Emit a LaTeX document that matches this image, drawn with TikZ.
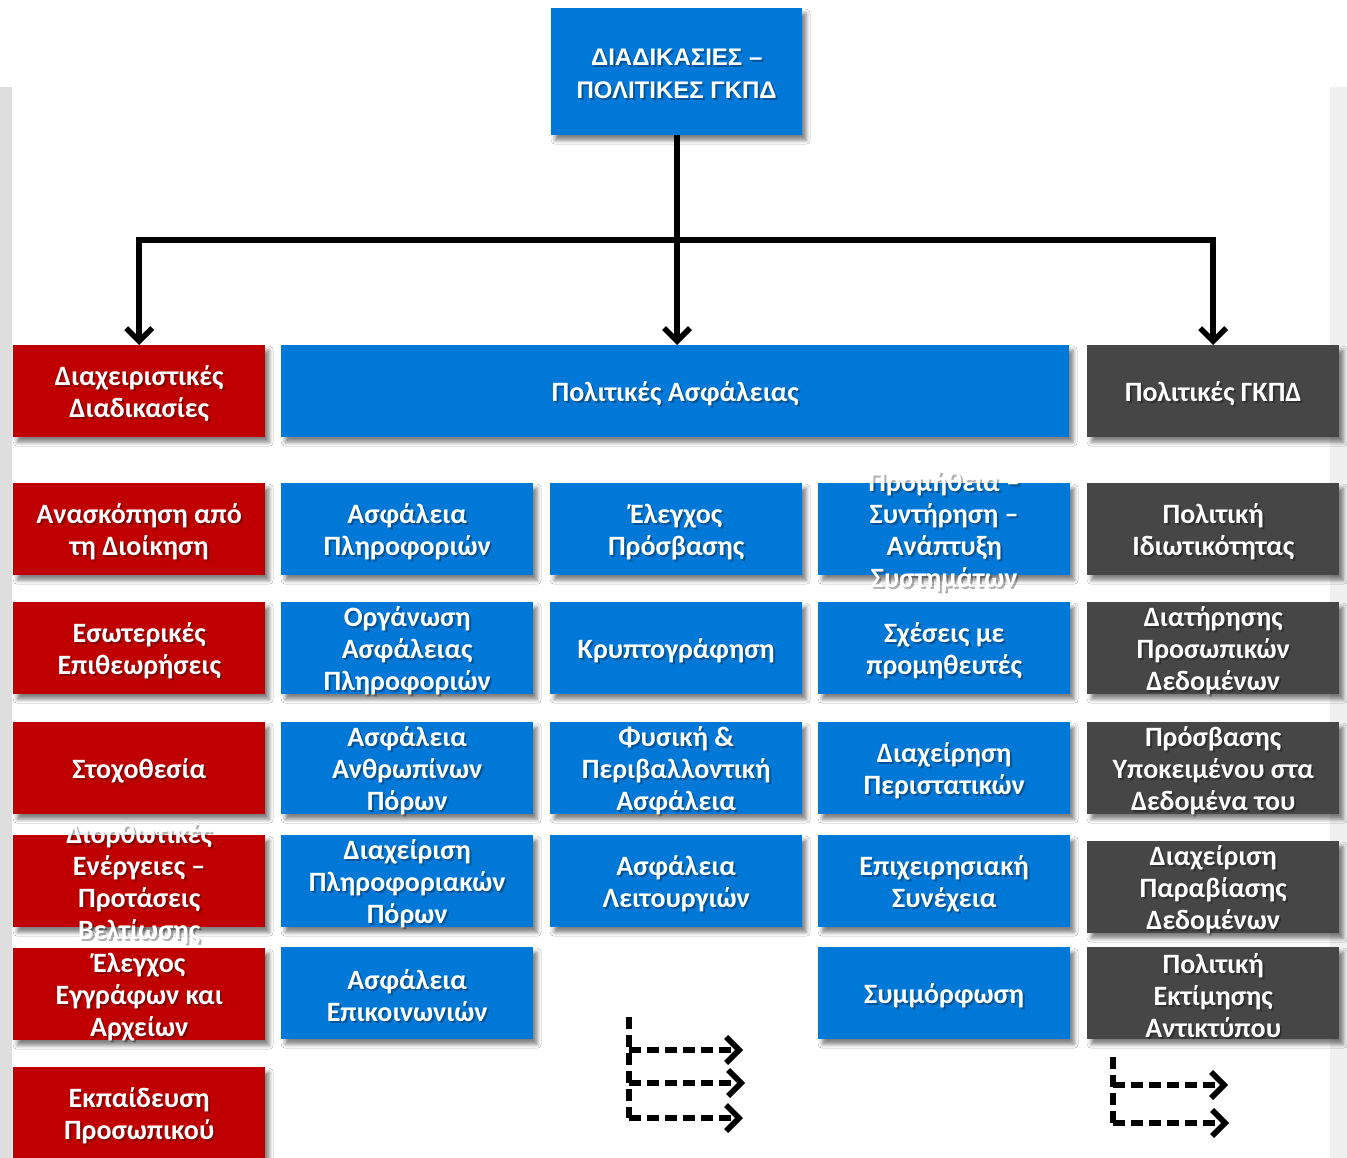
\documentclass[tikz,border=0pt]{standalone}
\usepackage{fontspec}
\setmainfont{Carlito}
\newfontfamily\topfont{Liberation Sans}
\usetikzlibrary{arrows.meta,shadows.blur}
\definecolor{cblue}{RGB}{0,120,215}
\definecolor{cred}{RGB}{192,0,0}
\definecolor{cgray}{RGB}{70,70,70}
\tikzset{
  boxshape/.style={rectangle, inner sep=0pt, anchor=north west, minimum height=92pt, minimum width=252pt,
    blur shadow={shadow xshift=4pt, shadow yshift=-5pt, shadow blur radius=4pt, shadow opacity=50}},
  txt/.style={inner sep=0pt, align=center, text=white, font=\bfseries\fontsize{28}{32}\selectfont},
  txtshadow/.style={txt, text=black, opacity=0.3},
  topfnt/.style={font=\topfont\bfseries\fontsize{24}{33}\selectfont},
  conn/.style={line width=5.5pt, draw=black},
  tip/.style={-{Straight Barb[length=13pt,width=26pt,line width=5.5pt]}},
  dashconn/.style={line width=5.5pt, draw=black, dash pattern=on 12pt off 6pt},
}
\newcommand\gbox[7]{%
  \node[boxshape, fill=#5, minimum width=#4] (#1) at (#2,#3) {};
  \node[txtshadow, #7] at ([xshift=2pt,yshift=-4.5pt]#1.center) {#6};
  \node[txt, #7] at ([yshift=-2.5pt]#1.center) {#6};
}
\begin{document}
\begin{tikzpicture}[x=1pt,y=-1pt]
\useasboundingbox (0,0) rectangle (1347,1158);
\fill[white] (0,0) rectangle (1347,1158);
\fill[black!13] (0,87) rectangle (12,1158);
\fill[black!6] (1330,87) rectangle (1347,1158);

% top
\node[boxshape, fill=cblue, minimum width=251pt, minimum height=127pt] (top) at (551,8) {};
\node[txtshadow, topfnt] at ([xshift=2pt,yshift=-4pt]top.center) {ΔΙΑΔΙΚΑΣΙΕΣ –\\ΠΟΛΙΤΙΚΕΣ ΓΚΠΔ};
\node[txt, topfnt] (toptext) at ([yshift=-2pt]top.center) {ΔΙΑΔΙΚΑΣΙΕΣ –\\ΠΟΛΙΤΙΚΕΣ ΓΚΠΔ};

% headers
\gbox{h0}{13}{345}{252}{cred}{Διαχειριστικές\\Διαδικασίες}{}
\gbox{h1}{281}{345}{788}{cblue}{Πολιτικές Ασφάλειας}{}
\gbox{h2}{1087}{345}{252}{cgray}{Πολιτικές ΓΚΠΔ}{}

% row 1
\gbox{r1}{13}{483}{252}{cred}{Ανασκόπηση από\\τη Διοίκηση}{}
\gbox{a1}{281}{483}{252}{cblue}{Ασφάλεια\\Πληροφοριών}{}
\gbox{b1}{550}{483}{252}{cblue}{Έλεγχος\\Πρόσβασης}{}
\gbox{c1}{818}{483}{252}{cblue}{Προμήθεια –\\Συντήρηση –\\Ανάπτυξη\\Συστημάτων}{}
\gbox{g1}{1087}{483}{252}{cgray}{Πολιτική\\Ιδιωτικότητας}{}
% row 2
\gbox{r2}{13}{602}{252}{cred}{Εσωτερικές\\Επιθεωρήσεις}{}
\gbox{a2}{281}{602}{252}{cblue}{Οργάνωση\\Ασφάλειας\\Πληροφοριών}{}
\gbox{b2}{550}{602}{252}{cblue}{Κρυπτογράφηση}{}
\gbox{c2}{818}{602}{252}{cblue}{Σχέσεις με\\προμηθευτές}{}
\gbox{g2}{1087}{602}{252}{cgray}{Διατήρησης\\Προσωπικών\\Δεδομένων}{}
% row 3
\gbox{r3}{13}{722}{252}{cred}{Στοχοθεσία}{}
\gbox{a3}{281}{722}{252}{cblue}{Ασφάλεια\\Ανθρωπίνων\\Πόρων}{}
\gbox{b3}{550}{722}{252}{cblue}{Φυσική \&\\Περιβαλλοντική\\Ασφάλεια}{}
\gbox{c3}{818}{722}{252}{cblue}{Διαχείρηση\\Περιστατικών}{}
\gbox{g3}{1087}{722}{252}{cgray}{Πρόσβασης\\Υποκειμένου στα\\Δεδομένα του}{}
% row 4
\gbox{r4}{13}{835}{252}{cred}{Διορθωτικές\\Ενέργειες –\\Προτάσεις\\Βελτίωσης}{}
\gbox{a4}{281}{835}{252}{cblue}{Διαχείριση\\Πληροφοριακών\\Πόρων}{}
\gbox{b4}{550}{835}{252}{cblue}{Ασφάλεια\\Λειτουργιών}{}
\gbox{c4}{818}{835}{252}{cblue}{Επιχειρησιακή\\Συνέχεια}{}
\gbox{g4}{1087}{841}{252}{cgray}{Διαχείριση\\Παραβίασης\\Δεδομένων}{}
% row 5
\gbox{r5}{13}{948}{252}{cred}{Έλεγχος\\Εγγράφων και\\Αρχείων}{}
\gbox{a5}{281}{947}{252}{cblue}{Ασφάλεια\\Επικοινωνιών}{}
\gbox{c5}{818}{947}{252}{cblue}{Συμμόρφωση}{}
\gbox{g5}{1087}{947}{252}{cgray}{Πολιτική\\Εκτίμησης\\Αντικτύπου}{}
% row 6
\gbox{r6}{13}{1067}{252}{cred}{Εκπαίδευση\\Προσωπικού}{}

% connectors
\coordinate (hub) at (677,240);
\draw[conn] (top.south -| hub) -- (hub);
\draw[conn, tip] (hub) -| (h0.north);
\draw[conn, tip] (hub) -| (h2.north);
\draw[conn, tip] (hub) -- (hub |- h1.north);

% legend 1
\coordinate (l1a) at (629,1017);
\coordinate (l1b) at (629,1050);
\coordinate (l1c) at (629,1083);
\coordinate (l1d) at (629,1118);
\coordinate (l1e) at (743,1050);
\coordinate (l1f) at (745,1083);
\coordinate (l1g) at (743,1118);
\draw[dashconn] (l1a) -- (l1d);
\draw[dashconn, tip] (l1b) -- (l1e);
\draw[dashconn, tip] (l1c) -- (l1f);
\draw[dashconn, tip] (l1d) -- (l1g);
% legend 2
\coordinate (l2a) at (1113,1057);
\coordinate (l2b) at (1113,1085);
\coordinate (l2c) at (1113,1123);
\coordinate (l2e) at (1228,1085);
\coordinate (l2f) at (1229,1123);
\draw[dashconn] (l2a) -- (l2c);
\draw[dashconn, tip] (l2b) -- (l2e);
\draw[dashconn, tip] (l2c) -- (l2f);
\end{tikzpicture}
\end{document}
